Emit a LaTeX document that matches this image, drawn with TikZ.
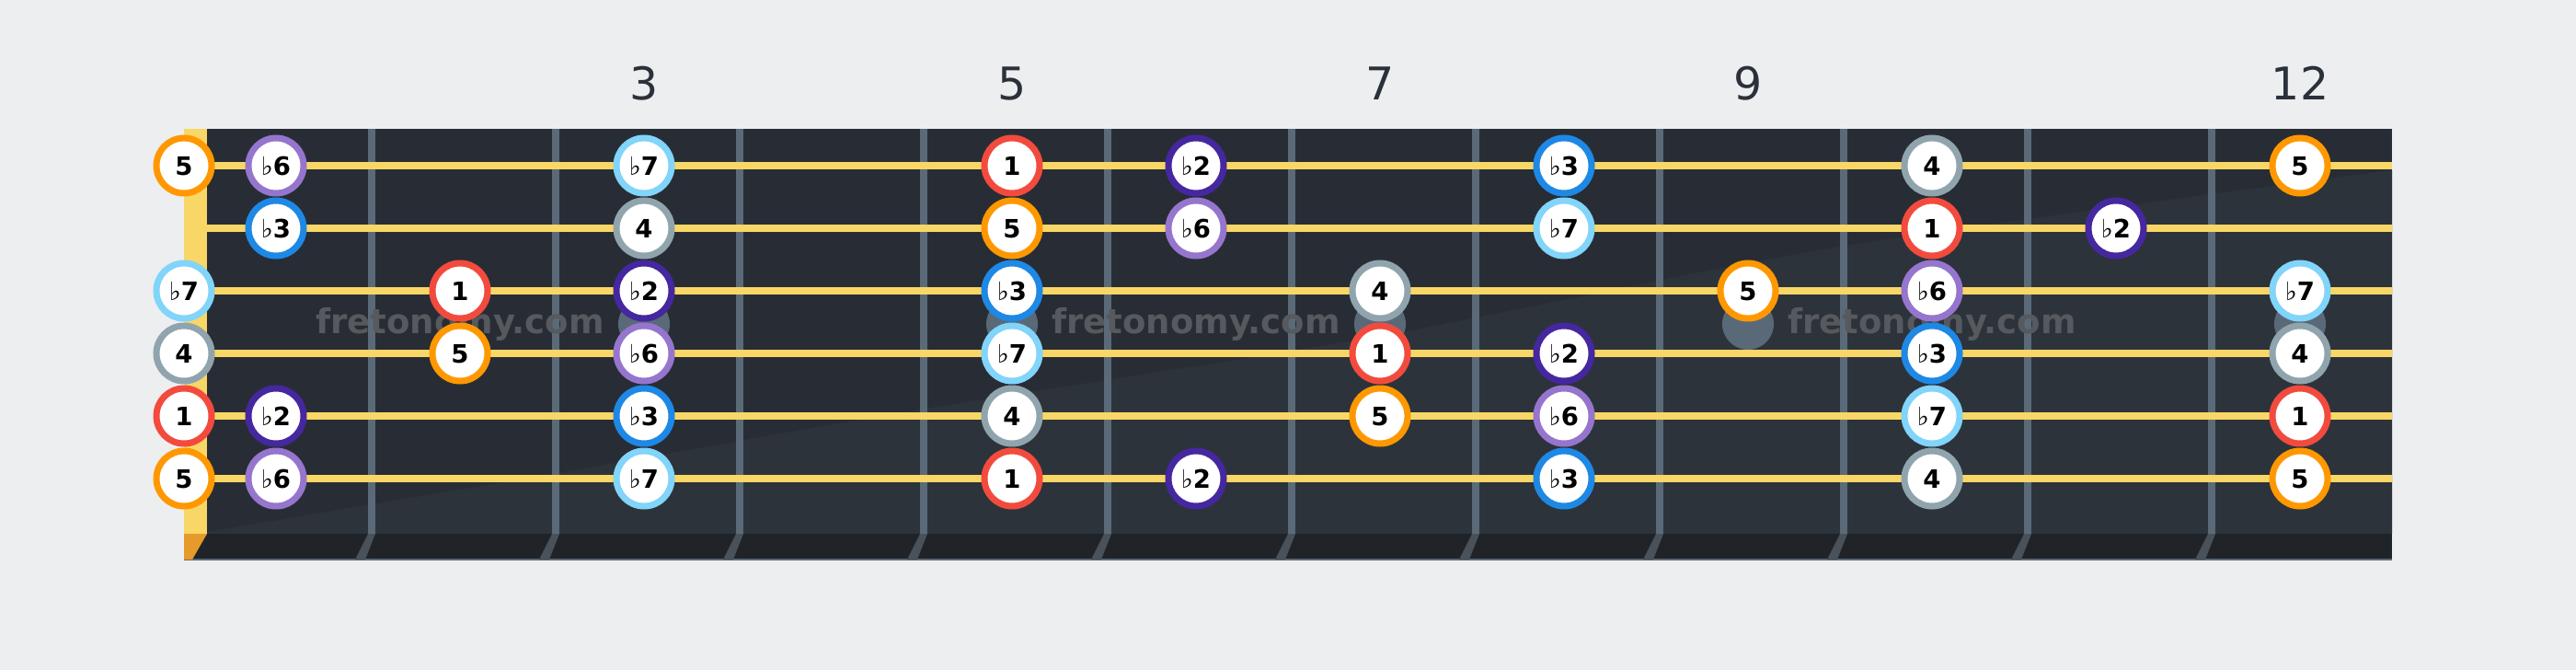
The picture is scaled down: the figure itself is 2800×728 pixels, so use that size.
\documentclass[tikz,border=0pt]{standalone}
\usepackage{fontspec}
\setmainfont{DejaVu Sans}
\definecolor{bg}{HTML}{EDEEF0}
\definecolor{board}{HTML}{282D35}
\definecolor{boardlight}{HTML}{2D333B}
\definecolor{edgec}{HTML}{202328}
\definecolor{fretc}{HTML}{5B6A78}
\definecolor{fretlow}{HTML}{4B5159}
\definecolor{strc}{HTML}{F8D766}
\definecolor{nutlow}{HTML}{E59A2B}
\definecolor{inlayc}{HTML}{5A6977}
\definecolor{wmc}{HTML}{56595E}
\definecolor{numc}{HTML}{2B313A}
\definecolor{cI}{HTML}{F24B3E}
\definecolor{cbII}{HTML}{4527A0}
\definecolor{cbIII}{HTML}{1E88E5}
\definecolor{cIV}{HTML}{90A4AE}
\definecolor{cV}{HTML}{FF9800}
\definecolor{cbVI}{HTML}{9575CD}
\definecolor{cbVII}{HTML}{81D4FA}
\newcommand\flt{{\mdseries ♭}}
\newcommand\nt[4]{\node[note,draw=#3] (n#1-#2) at ({100+200*#2+100*(#2==0)},{112+68*#1}) {#4};}
\tikzset{
  note/.style={circle, fill=white, line width=3.5pt, inner sep=0pt, minimum size=30pt,
    font=\fontsize{13.75}{14}\selectfont\bfseries, text=black, text height=10pt, text depth=0pt},
  fnum/.style={anchor=base, text=numc, font=\fontsize{24.5}{26}\selectfont},
  wmark/.style={anchor=base, text=wmc, font=\fontsize{18.5}{20}\selectfont\bfseries},
  stringline/.style={strc, line width=4pt},
}
\begin{document}
\begin{tikzpicture}[x=0.5pt,y=-0.5pt]
\fill[bg] (0,0) rectangle (2800,728);
\useasboundingbox (0,0) rectangle (2800,728);
% board
\fill[board] (225,140) rectangle (2600,580);
\fill[boardlight] plot[smooth] coordinates {(225,578) (600,515) (1000,445) (1500,365) (2000,268) (2600,185)} -- (2600,580) -- (225,580) -- cycle;
\fill[edgec] (200,580) rectangle (2600,608);
\draw[fretc, line width=1pt] (200,608) -- (2600,608);
% nut
\fill[strc] (200,140) rectangle (225,580);
\fill[nutlow] (200,580) -- (225,580) -- (209,608) -- (200,608) -- cycle;
% frets
\foreach \k in {1,...,11}{
  \fill[fretc] ({200+200*\k},140) rectangle ({208+200*\k},580);
  \fill[fretlow] ({200+200*\k},580) -- ({208+200*\k},580) -- ({197+200*\k},608) -- ({186+200*\k},608) -- cycle;
}
% inlays
\foreach \x in {700,1100,1500,1900,2500}{
  \fill[inlayc] (\x,352) circle[radius=28];
}
% watermarks
\node[wmark] (wm1) at (500,362) {fretonomy.com};
\node[wmark] (wm2) at (1300,362) {fretonomy.com};
\node[wmark] (wm3) at (2100,362) {fretonomy.com};
% strings
\foreach \s in {1,...,6}{
  \draw[stringline] (225,{112+68*\s}) -- (2600,{112+68*\s});
}
% fret numbers
\node[fnum] (f3) at (700,108) {3};
\node[fnum] (f5) at (1100,108) {5};
\node[fnum] (f7) at (1500,108) {7};
\node[fnum] (f9) at (1900,108) {9};
\node[fnum] (f12) at (2500,108) {12};
% string 1
\nt{1}{0}{cV}{5}
\nt{1}{1}{cbVI}{\flt 6}
\nt{1}{3}{cbVII}{\flt 7}
\nt{1}{5}{cI}{1}
\nt{1}{6}{cbII}{\flt 2}
\nt{1}{8}{cbIII}{\flt 3}
\nt{1}{10}{cIV}{4}
\nt{1}{12}{cV}{5}
% string 2
\nt{2}{1}{cbIII}{\flt 3}
\nt{2}{3}{cIV}{4}
\nt{2}{5}{cV}{5}
\nt{2}{6}{cbVI}{\flt 6}
\nt{2}{8}{cbVII}{\flt 7}
\nt{2}{10}{cI}{1}
\nt{2}{11}{cbII}{\flt 2}
% string 3
\nt{3}{0}{cbVII}{\flt 7}
\nt{3}{2}{cI}{1}
\nt{3}{3}{cbII}{\flt 2}
\nt{3}{5}{cbIII}{\flt 3}
\nt{3}{7}{cIV}{4}
\nt{3}{9}{cV}{5}
\nt{3}{10}{cbVI}{\flt 6}
\nt{3}{12}{cbVII}{\flt 7}
% string 4
\nt{4}{0}{cIV}{4}
\nt{4}{2}{cV}{5}
\nt{4}{3}{cbVI}{\flt 6}
\nt{4}{5}{cbVII}{\flt 7}
\nt{4}{7}{cI}{1}
\nt{4}{8}{cbII}{\flt 2}
\nt{4}{10}{cbIII}{\flt 3}
\nt{4}{12}{cIV}{4}
% string 5
\nt{5}{0}{cI}{1}
\nt{5}{1}{cbII}{\flt 2}
\nt{5}{3}{cbIII}{\flt 3}
\nt{5}{5}{cIV}{4}
\nt{5}{7}{cV}{5}
\nt{5}{8}{cbVI}{\flt 6}
\nt{5}{10}{cbVII}{\flt 7}
\nt{5}{12}{cI}{1}
% string 6
\nt{6}{0}{cV}{5}
\nt{6}{1}{cbVI}{\flt 6}
\nt{6}{3}{cbVII}{\flt 7}
\nt{6}{5}{cI}{1}
\nt{6}{6}{cbII}{\flt 2}
\nt{6}{8}{cbIII}{\flt 3}
\nt{6}{10}{cIV}{4}
\nt{6}{12}{cV}{5}
\end{tikzpicture}
\end{document}
